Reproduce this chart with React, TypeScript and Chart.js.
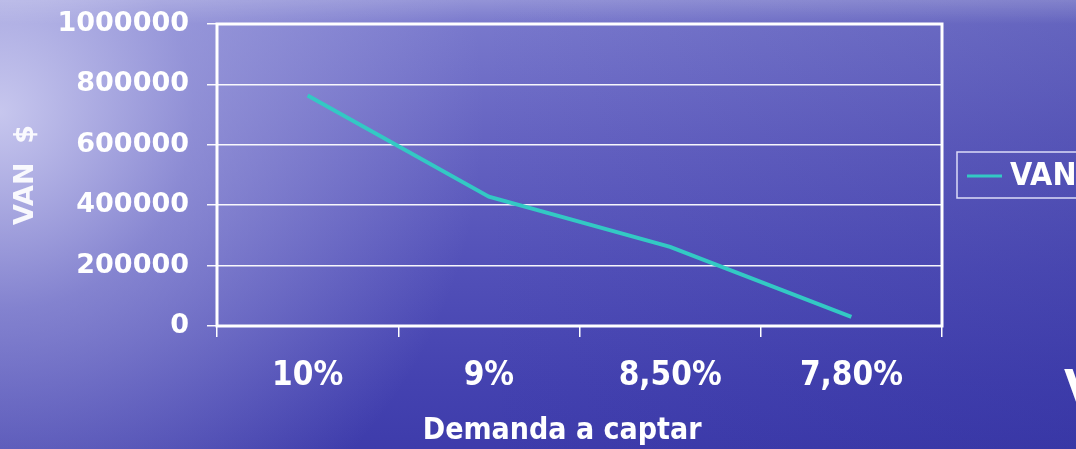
import { useEffect, useRef } from "react";
import { Chart, registerables } from "chart.js";
Chart.register(...registerables);

const categories = ["10%", "9%", "8,50%", "7,80%"];
const vanValues = [763000, 428000, 262000, 30000];
const seriesLabel = "VAN";
const yTickValues = [0, 200000, 400000, 600000, 800000, 1000000];
const xTitle = "Demanda a captar";
const yTitle = "VAN  $";
const sideText = "V";

const LINE_COLOR = "#33C9C4";
const COND = '"DejaVu Sans Condensed", "DejaVu Sans", sans-serif';
const WIDE = '"DejaVu Sans", sans-serif';

const framePlugin = {
  id: "frame",
  beforeDatasetsDraw(chart: any) {
    const { ctx, chartArea: a } = chart;
    ctx.save();
    ctx.strokeStyle = "#ffffff";
    ctx.lineWidth = 3;
    ctx.strokeRect(a.left, a.top, a.right - a.left, a.bottom - a.top);
    ctx.restore();
  },
};

const legendBoxPlugin = {
  id: "legendBox",
  afterDraw(chart: any) {
    const { ctx, chartArea: a } = chart;
    const ds = chart.data.datasets[0];
    const left = a.right + 15;
    const mid = (a.top + a.bottom) / 2;
    ctx.save();
    ctx.strokeStyle = "rgba(235,235,255,0.9)";
    ctx.lineWidth = 1.5;
    ctx.strokeRect(left, mid - 23, 220, 46);
    ctx.strokeStyle = ds.borderColor;
    ctx.lineWidth = 3;
    ctx.beginPath();
    ctx.moveTo(left + 10, mid + 1);
    ctx.lineTo(left + 45, mid + 1);
    ctx.stroke();
    ctx.fillStyle = "#ffffff";
    ctx.font = "bold 32px " + COND;
    ctx.textBaseline = "middle";
    ctx.textAlign = "left";
    ctx.fillText(ds.label, left + 53, mid + 2);
    ctx.restore();
  },
};

const xTitlePlugin = {
  id: "xTitleCustom",
  afterDraw(chart: any) {
    const { ctx, chartArea: a } = chart;
    ctx.save();
    ctx.fillStyle = "#ffffff";
    ctx.font = "bold 30px " + COND;
    ctx.textAlign = "center";
    ctx.textBaseline = "middle";
    ctx.fillText(xTitle, a.left + (a.right - a.left) * 0.476, a.bottom + 105);
    ctx.restore();
  },
};

export default function App() {
  const ref = useRef<HTMLCanvasElement | null>(null);
  useEffect(() => {
    document.body.style.margin = "0";
    const chart = new Chart(ref.current as HTMLCanvasElement, {
      type: "line",
      data: {
        labels: categories,
        datasets: [
          {
            label: seriesLabel,
            data: vanValues,
            borderColor: LINE_COLOR,
            backgroundColor: LINE_COLOR,
            borderWidth: 4,
            pointRadius: 0,
            tension: 0,
            fill: false,
          },
        ],
      },
      options: {
        animation: false,
        responsive: false,
        layout: { padding: { left: 0, top: 24, right: 134, bottom: 0 } },
        plugins: { legend: { display: false }, tooltip: { enabled: false } },
        scales: {
          x: {
            type: "category",
            offset: true,
            grid: {
              offset: true,
              drawOnChartArea: false,
              drawTicks: true,
              tickLength: 11,
              color: "#ffffff",
              lineWidth: 1.5,
            },
            border: { display: false },
            ticks: {
              color: "#ffffff",
              font: { family: COND, size: 33, weight: "bold" },
              padding: 20,
              maxRotation: 0,
            },
            afterFit(scale: any) {
              scale.height = 123;
              scale.paddingLeft = 0;
              scale.paddingRight = 0;
            },
          },
          y: {
            min: 0,
            max: 1000000,
            afterBuildTicks(scale: any) {
              scale.ticks = yTickValues.map((v) => ({ value: v }));
            },
            grid: {
              color: "rgba(255,255,255,0.95)",
              lineWidth: 1.5,
              drawTicks: true,
              tickLength: 10,
            },
            border: { display: false },
            ticks: {
              color: "#ffffff",
              font: { family: WIDE, size: 27, weight: "bold" },
              padding: 18,
              callback: (v: any) => String(v),
            },
            title: {
              display: true,
              text: yTitle,
              color: "rgba(255,255,255,0.92)",
              font: { family: WIDE, size: 27, weight: "bold" },
              padding: { top: 10, bottom: 0 },
            },
            afterFit(scale: any) {
              scale.width = 217;
              scale.paddingTop = 0;
              scale.paddingBottom = 0;
            },
          },
        },
      },
      plugins: [framePlugin, legendBoxPlugin, xTitlePlugin],
    } as any);
    return () => chart.destroy();
  }, []);

  return (
    <div
      style={{
        position: "fixed",
        left: 0,
        top: 0,
        width: 1076,
        height: 449,
        overflow: "hidden",
        background:
          "linear-gradient(to bottom, rgba(255,255,255,0.18), rgba(255,255,255,0) 24px), radial-gradient(ellipse 45% 110% at 0% 25%, rgba(215,215,245,0.85) 0%, rgba(175,175,228,0.55) 40%, rgba(150,150,220,0) 100%), linear-gradient(to right, rgba(40,40,150,0) 0%, rgba(40,40,150,0) 45%, rgba(40,40,150,0.25) 100%), linear-gradient(to bottom, #7c7cce 0%, #6664c2 30%, #5250b8 60%, #4442b0 85%, #3e3cab 100%)",
      }}
    >
      <canvas ref={ref} width={1076} height={449} style={{ position: "absolute", left: 0, top: 0 }} />
      <div
        style={{
          position: "absolute",
          left: 1064,
          top: 365,
          fontFamily: WIDE,
          fontWeight: "bold",
          fontSize: 44,
          lineHeight: "44px",
          color: "#ffffff",
          whiteSpace: "nowrap",
        }}
      >
        {sideText}
      </div>
    </div>
  );
}
